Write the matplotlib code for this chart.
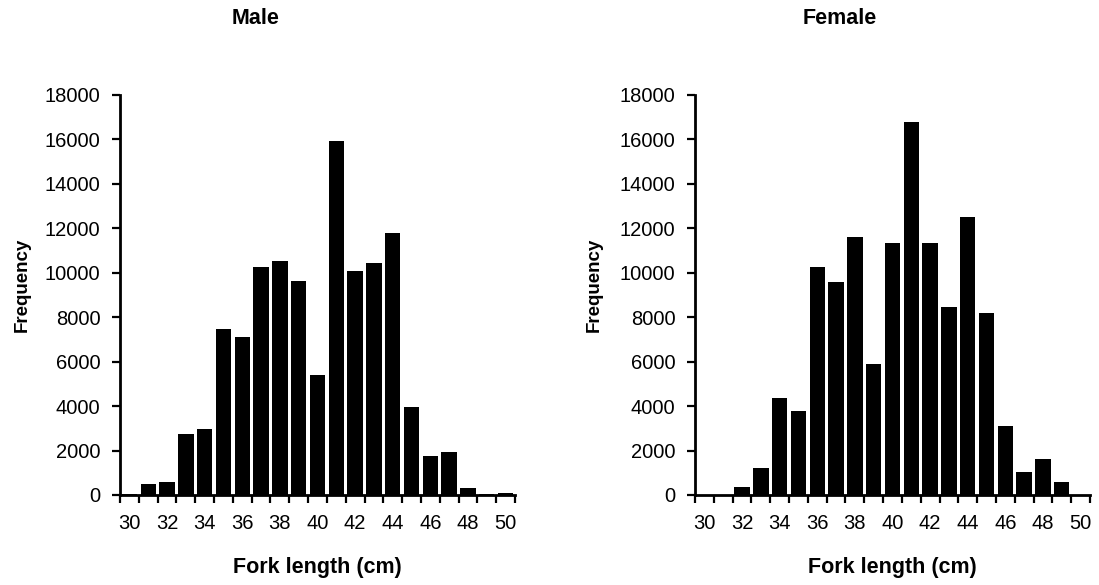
import numpy as np
import matplotlib
matplotlib.use("Agg")
import matplotlib.pyplot as plt

# fork length classes (cm) and counts
lengths = list(range(30, 51))
male_freq = [50, 500, 570, 2750, 2950, 7450, 7100, 10250, 10550, 9650, 5400,
             15950, 10100, 10450, 11800, 3950, 1770, 1950, 300, 50, 80]
female_freq = [20, 20, 380, 1200, 4350, 3800, 10250, 9600, 11600, 5900, 11350,
               16800, 11350, 8450, 12500, 8200, 3100, 1050, 1600, 580, 0]
yticks = list(range(0, 18001, 2000))

plt.rcParams['font.family'] = ['Liberation Sans', 'DejaVu Sans']

W, H = 1099, 585
fig = plt.figure(figsize=(W / 100, H / 100), dpi=100)


def px(x, y):
    # pixel coords (top-left origin) -> figure fraction
    return x / W, 1 - y / H


def make_panel(left, right, bottom, top, freq, title, title_x, ylab_x):
    ax = fig.add_axes([left / W, 1 - bottom / H, (right - left) / W, (bottom - top) / H])
    xs = np.arange(len(lengths))
    ax.bar(xs, freq, width=0.82, color='black', edgecolor='black', linewidth=0)
    ax.set_xlim(-0.5, len(lengths) - 0.5)
    ax.set_ylim(0, 18000)

    # category boundary ticks, labels every second class
    ax.set_xticks(np.arange(-0.5, len(lengths), 1.0))
    ax.set_xticklabels([])
    ax.set_xticks(xs[::2], minor=True)
    ax.set_xticklabels([str(v) for v in lengths[::2]], minor=True, fontsize=14.5)
    ax.tick_params(axis='x', which='major', direction='out', length=6, width=1.6)
    ax.tick_params(axis='x', which='minor', length=0, pad=14)

    ax.set_yticks(yticks)
    ax.set_yticklabels([str(v) for v in yticks], fontsize=14.5)
    ax.tick_params(axis='y', direction='out', length=6, width=1.6, pad=8)

    for s in ['top', 'right']:
        ax.spines[s].set_visible(False)
    for s in ['left', 'bottom']:
        ax.spines[s].set_linewidth(2)

    fig.text(*px(title_x, 19), title, ha='center', va='center',
             fontsize=15.5, fontweight='bold')
    fig.text(*px((left + right) / 2, 567), 'Fork length (cm)', ha='center',
             va='center', fontsize=15.5, fontweight='bold')
    fig.text(*px(ylab_x, 285), 'Frequency', ha='center', va='center',
             rotation=90, fontsize=13.5, fontweight='bold')
    return ax


make_panel(120, 515, 495, 95, male_freq, 'Male', 256, 22)
make_panel(695, 1090, 495, 95, female_freq, 'Female', 840, 594)

fig.savefig('out.png', dpi=100)
